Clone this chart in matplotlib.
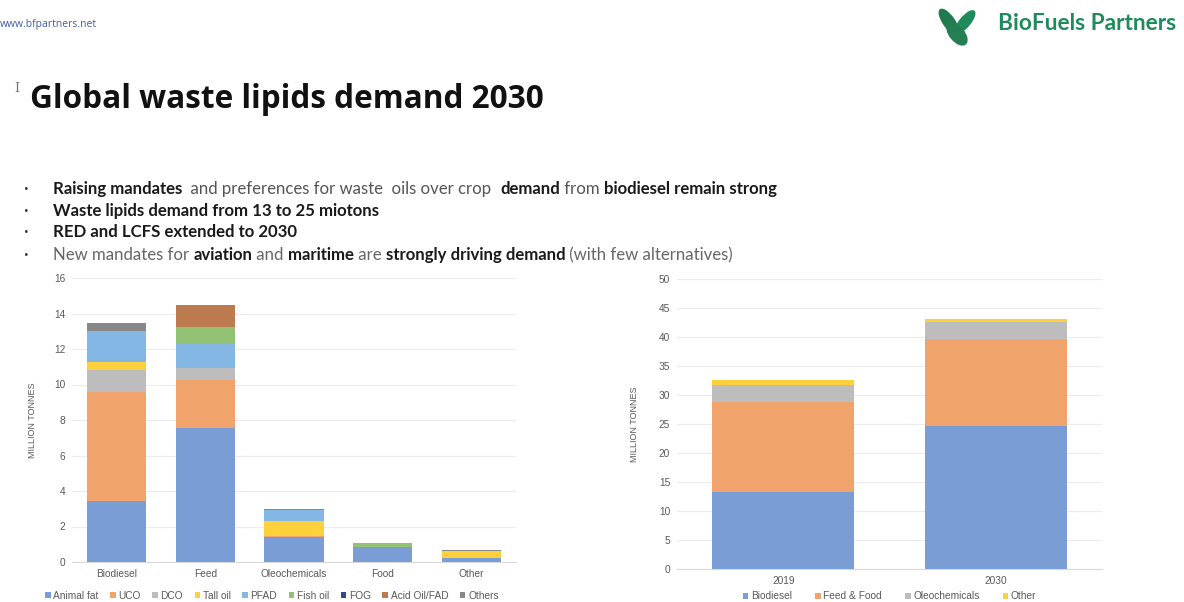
import numpy as np
import matplotlib
matplotlib.use("Agg")
import matplotlib.pyplot as plt
from matplotlib.patches import Ellipse

plt.rcParams['font.family'] = ['Open Sans', 'DejaVu Sans']

# ---- data: left chart (2030 demand by use, million tonnes) ----
uses = ['Biodiesel', 'Feed', 'Oleochemicals', 'Food', 'Other']
feedstocks = ['Animal fat', 'UCO', 'DCO', 'Tall oil', 'PFAD', 'Fish oil',
              'FOG', 'Acid Oil/FAD', 'Others']
animal_fat = [3.42, 7.57, 1.40, 0.86, 0.20]
uco = [6.15, 2.68, 0.05, 0.00, 0.05]
dco = [1.26, 0.70, 0.00, 0.00, 0.00]
tall_oil = [0.41, 0.00, 0.88, 0.00, 0.36]
pfad = [1.79, 1.34, 0.60, 0.00, 0.00]
fish_oil = [0.00, 0.97, 0.00, 0.19, 0.00]
fog = [0.00, 0.00, 0.00, 0.00, 0.00]
acid_oil = [0.00, 1.23, 0.00, 0.00, 0.00]
others = [0.43, 0.00, 0.05, 0.00, 0.09]
left_series = [animal_fat, uco, dco, tall_oil, pfad, fish_oil, fog, acid_oil, others]
left_colors = ['#7b9dd6', '#f0a46c', '#bdbdbd', '#fdd13c', '#85b7e4',
               '#93c274', '#2f4d85', '#bd7a4e', '#888888']

# ---- data: right chart (total demand, million tonnes) ----
years = ['2019', '2030']
segments = ['Biodiesel', 'Feed & Food', 'Oleochemicals', 'Other']
biodiesel = [13.3, 24.6]
feed_food = [15.5, 15.1]
oleochem = [3.0, 2.9]
other = [0.8, 0.5]
right_series = [biodiesel, feed_food, oleochem, other]
right_colors = ['#7b9dd6', '#f0a46c', '#bdbdbd', '#fdd13c']

W, H = 1184, 602
fig = plt.figure(figsize=(W / 100, H / 100), dpi=100)
fig.patch.set_facecolor('white')


def fx(px):
    return px / W


def fy(py):
    return 1 - py / H


tick_col = '#595959'
chart_font = ['Liberation Sans', 'DejaVu Sans']

# ---- left stacked bars ----
axl = fig.add_axes([fx(72), fy(562), fx(516) - fx(72), fy(278) - fy(562)])
xl = np.arange(len(uses))
bottom = np.zeros(len(uses))
for name, vals, col in zip(feedstocks, left_series, left_colors):
    axl.bar(xl, vals, 0.665, bottom=bottom, color=col, label=name, zorder=3)
    bottom += np.array(vals)
axl.set_xlim(-0.5, len(uses) - 0.5)
axl.set_ylim(0, 16)
axl.set_yticks(range(0, 17, 2))
axl.set_xticks(xl)
axl.set_xticklabels(uses)
axl.set_ylabel('MILLION TONNES', fontsize=6.5, color=tick_col, labelpad=12,
               family=chart_font)
axl.legend(loc='upper center', bbox_to_anchor=(0.45, -0.07), ncol=9, frameon=False,
           handlelength=0.55, handleheight=0.55, handletextpad=0.25,
           columnspacing=1.15, labelcolor=tick_col, prop={'family': chart_font, 'size': 7.3})

# ---- right stacked bars ----
axr = fig.add_axes([fx(677), fy(569), fx(1102) - fx(677), fy(279) - fy(569)])
xr = np.arange(len(years))
bottom = np.zeros(len(years))
for name, vals, col in zip(segments, right_series, right_colors):
    axr.bar(xr, vals, 0.67, bottom=bottom, color=col, label=name, zorder=3)
    bottom += np.array(vals)
axr.set_xlim(-0.5, len(years) - 0.5)
axr.set_ylim(0, 50)
axr.set_yticks(range(0, 51, 5))
axr.set_xticks(xr)
axr.set_xticklabels(years)
axr.set_ylabel('MILLION TONNES', fontsize=6.5, color=tick_col, labelpad=14,
               family=chart_font)
axr.legend(loc='upper center', bbox_to_anchor=(0.5, -0.045), ncol=4, frameon=False,
           handlelength=0.55, handleheight=0.55, handletextpad=0.25,
           columnspacing=2.3, labelcolor=tick_col, prop={'family': chart_font, 'size': 7.3})

for ax in (axl, axr):
    for s in ('top', 'right', 'left'):
        ax.spines[s].set_visible(False)
    ax.spines['bottom'].set_color('#d9d9d9')
    ax.grid(axis='y', color='#ececec', linewidth=0.8, zorder=0)
    ax.tick_params(axis='both', length=0, labelsize=7.3, colors=tick_col, pad=5)
    for lab in ax.get_xticklabels() + ax.get_yticklabels():
        lab.set_family(chart_font)

# ---- header ----
fig.text(fx(0), fy(25), 'www.bfpartners.net', fontsize=7.5, color='#3f5fa8', va='center')
fig.text(fx(998), fy(23), 'BioFuels Partners', fontsize=16.3, fontweight='bold',
         color='#1f8a5c', va='center', family=['Lato', 'DejaVu Sans'])

logo = fig.add_axes([fx(935), fy(52), fx(45), fy(0) - fy(52)])
logo.set_xlim(0, 45)
logo.set_ylim(52, 0)
logo.axis('off')
logo.add_patch(Ellipse((14, 22), 11, 30, angle=-35, color='#1f7a4f'))
logo.add_patch(Ellipse((30, 22), 10, 28, angle=40, color='#1f8a5c'))
logo.add_patch(Ellipse((22, 34), 14, 26, angle=-40, color='#247f52'))

fig.text(fx(14), fy(88), 'I', fontsize=9, color='#777777', va='center',
         family=['DejaVu Serif'])
fig.text(fx(30), fy(100), 'Global waste lipids demand 2030', fontsize=22.7,
         fontweight='bold', color='#111111', va='center')

# ---- bullets with mixed bold runs ----
bullets = [
    [('Raising mandates', True, '#1a1a1a'), ('  and preferences for waste  oils over crop  ', False, '#555555'),
     ('demand', True, '#1a1a1a'), (' from ', False, '#555555'),
     ('biodiesel remain strong', True, '#1a1a1a')],
    [('Waste lipids demand from 13 to 25 miotons', True, '#1a1a1a')],
    [('RED and LCFS extended to 2030', True, '#1a1a1a')],
    [('New mandates for ', False, '#666666'), ('aviation', True, '#1a1a1a'),
     (' and ', False, '#666666'), ('maritime', True, '#1a1a1a'), (' are ', False, '#666666'),
     ('strongly driving demand', True, '#1a1a1a'),
     (' (with few alternatives)', False, '#666666')],
]
bullet_y = [189, 211, 232, 255]
bullet_font = ['Lato', 'DejaVu Sans']

# measure the first line at a base size so the block spans the same width as the slide
fig.canvas.draw()
renderer = fig.canvas.get_renderer()
base = 10
total = 0
for txt, bold, col in bullets[0]:
    t = fig.text(0, 0, txt, fontsize=base, fontweight='bold' if bold else 'normal',
                 family=bullet_font)
    total += t.get_window_extent(renderer).width
    t.remove()
bsize = base * (782 - 53) / total

for runs, py in zip(bullets, bullet_y):
    fig.text(fx(24), fy(py), '\u2022', fontsize=9, color='#333333', va='center')
    x = 53
    for txt, bold, col in runs:
        t = fig.text(fx(x), fy(py), txt, fontsize=bsize, color=col, va='center',
                     fontweight='bold' if bold else 'normal', family=bullet_font)
        x += t.get_window_extent(renderer).width

fig.savefig('out.png', dpi=100, facecolor='white')
